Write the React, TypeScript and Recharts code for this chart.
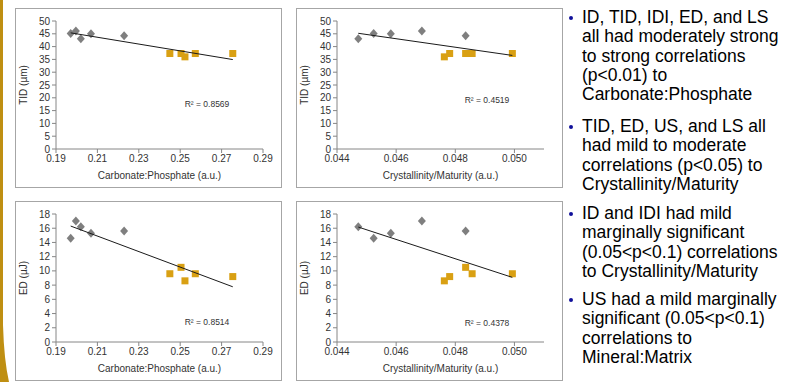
import React from "react";
import { ScatterChart, Scatter, XAxis, YAxis, Label } from "recharts";

// sample values (5 grey + 5 gold samples)
const carbPhosGray = [0.1971, 0.1996, 0.202, 0.2069, 0.2229];
const carbPhosGold = [0.245, 0.2504, 0.2523, 0.2573, 0.2754];
const crystGray = [0.04524, 0.04687, 0.04472, 0.04582, 0.04835];
const crystGold = [0.04857, 0.04835, 0.04763, 0.04993, 0.04781];
const tidGray = [45.1, 46.1, 43.1, 45.0, 44.2];
const tidGold = [37.3, 37.3, 36.0, 37.3, 37.3];
const edGray = [14.6, 17.0, 16.2, 15.3, 15.6];
const edGold = [9.6, 10.5, 8.6, 9.6, 9.2];

const cpTicks = [0.19, 0.21, 0.23, 0.25, 0.27, 0.29];
const crTicks = [0.044, 0.046, 0.048, 0.05];
const tidTicks = [0, 5, 10, 15, 20, 25, 30, 35, 40, 45, 50];
const edTicks = [0, 2, 4, 6, 8, 10, 12, 14, 16, 18];

const bullets = [
  ["ID, TID, IDI, ED, and LS", "all had moderately strong", "to strong correlations", "(p<0.01) to", "Carbonate:Phosphate"],
  ["TID, ED, US, and LS all", "had mild to moderate", "correlations (p<0.05) to", "Crystallinity/Maturity"],
  ["ID and IDI had mild", "marginally significant", "(0.05<p<0.1) correlations", "to Crystallinity/Maturity"],
  ["US had a mild marginally", "significant (0.05<p<0.1)", "correlations to", "Mineral:Matrix"],
];
const bulletTops = [8, 117, 204, 290];

type Pt = { x: number; y: number };

const zip = (xs: number[], ys: number[]): Pt[] => xs.map((x, i) => ({ x, y: ys[i] }));

// linear least-squares trendline over all points, drawn from min x to max x
function trend(pts: Pt[]): Pt[] {
  const n = pts.length;
  const mx = pts.reduce((s, p) => s + p.x, 0) / n;
  const my = pts.reduce((s, p) => s + p.y, 0) / n;
  let sxy = 0;
  let sxx = 0;
  pts.forEach((p) => {
    sxy += (p.x - mx) * (p.y - my);
    sxx += (p.x - mx) * (p.x - mx);
  });
  const b = sxy / sxx;
  const xs = pts.map((p) => p.x);
  const x0 = Math.min(...xs);
  const x1 = Math.max(...xs);
  return [
    { x: x0, y: my + b * (x0 - mx) },
    { x: x1, y: my + b * (x1 - mx) },
  ];
}

const GREY = "#7f7f7f";
const GOLD = "#d9a013";
const AXIS = "#868686";
const TXT = "#333";

const Diamond = (p: any) => (
  <polygon
    points={`${p.cx},${p.cy - 4.5} ${p.cx + 4},${p.cy} ${p.cx},${p.cy + 4.5} ${p.cx - 4},${p.cy}`}
    fill={GREY}
  />
);
const Square = (p: any) => (
  <rect x={p.cx - 3.5} y={p.cy - 3.5} width={7} height={7} fill={GOLD} />
);

type PanelProps = {
  left: number;
  top: number;
  gx: number[];
  gy: number[];
  ox: number[];
  oy: number[];
  xTicks: number[];
  xDomain: [number, number];
  digits: number;
  yTicks: number[];
  xTitle: string;
  yTitle: string;
  r2: string;
  r2x: number;
  r2y: number;
};

function Panel(p: PanelProps) {
  const grey = zip(p.gx, p.gy);
  const gold = zip(p.ox, p.oy);
  const line = trend([...grey, ...gold]);
  const yMax = p.yTicks[p.yTicks.length - 1];
  return (
    <>
      <div
        style={{
          position: "absolute",
          left: p.left,
          top: p.top,
          width: 267,
          height: 180,
          boxSizing: "border-box",
          border: "1px solid #a6a6a6",
        }}
      />
      <div style={{ position: "absolute", left: p.left, top: p.top }}>
        <ScatterChart width={267} height={180} margin={{ top: 13, right: 19, bottom: 0, left: 0 }}>
          <XAxis
            type="number"
            dataKey="x"
            domain={p.xDomain}
            ticks={p.xTicks}
            interval={0}
            allowDataOverflow
            height={39}
            tickSize={4}
            tick={{ fontSize: 10, fill: TXT }}
            tickFormatter={(v: number) => v.toFixed(p.digits)}
            axisLine={{ stroke: AXIS }}
            tickLine={{ stroke: AXIS }}
          >
            <Label
              content={(lp: any) => {
                const vb = lp.viewBox;
                return (
                  <text x={vb.x + vb.width / 2} y={vb.y + 26} textAnchor="middle" dominantBaseline="central" fontSize={10} fill={TXT}>
                    {p.xTitle}
                  </text>
                );
              }}
            />
          </XAxis>
          <YAxis
            type="number"
            dataKey="y"
            domain={[0, yMax]}
            ticks={p.yTicks}
            interval={0}
            width={41}
            tickSize={4}
            tick={{ fontSize: 10, fill: TXT }}
            axisLine={{ stroke: AXIS }}
            tickLine={{ stroke: AXIS }}
          >
            <Label
              content={(lp: any) => {
                const vb = lp.viewBox;
                const x = vb.x + 8;
                const y = vb.y + vb.height / 2;
                return (
                  <text x={x} y={y} transform={`rotate(-90 ${x} ${y})`} textAnchor="middle" dominantBaseline="central" fontSize={10} fill={TXT}>
                    {p.yTitle}
                  </text>
                );
              }}
            />
          </YAxis>
          <Scatter data={grey} shape={Diamond} isAnimationActive={false} />
          <Scatter data={gold} shape={Square} isAnimationActive={false} />
          <Scatter
            data={line}
            line={{ stroke: "#1a1a1a", strokeWidth: 1 }}
            shape={() => <g />}
            isAnimationActive={false}
          />
        </ScatterChart>
      </div>
      <span
        style={{
          position: "absolute",
          left: p.left + p.r2x,
          top: p.top + p.r2y,
          transform: "translate(-50%, -50%)",
          fontSize: 8.5,
          color: TXT,
          whiteSpace: "nowrap",
        }}
      >
        {p.r2}
      </span>
    </>
  );
}

export default function App() {
  return (
    <div
      style={{
        position: "absolute",
        left: 0,
        top: 0,
        width: 786,
        height: 382,
        overflow: "hidden",
        background: "#fff",
        fontFamily: "'Liberation Sans', Arial, sans-serif",
      }}
    >
      <svg width={20} height={382} style={{ position: "absolute", left: 0, top: 0 }}>
        <path d="M0,0 L3,0 L3,325 Q4,360 9,382 L0,382 Z" fill="#bf8f12" />
      </svg>
      <Panel
        left={15}
        top={8}
        gx={carbPhosGray}
        gy={tidGray}
        ox={carbPhosGold}
        oy={tidGold}
        xTicks={cpTicks}
        xDomain={[0.19, 0.29]}
        digits={2}
        yTicks={tidTicks}
        xTitle="Carbonate:Phosphate (a.u.)"
        yTitle="TID (µm)"
        r2="R² = 0.8569"
        r2x={192}
        r2y={96}
      />
      <Panel
        left={296}
        top={8}
        gx={crystGray}
        gy={tidGray}
        ox={crystGold}
        oy={tidGold}
        xTicks={crTicks}
        xDomain={[0.044, 0.051]}
        digits={3}
        yTicks={tidTicks}
        xTitle="Crystallinity/Maturity (a.u.)"
        yTitle="TID (µm)"
        r2="R² = 0.4519"
        r2x={191}
        r2y={92}
      />
      <Panel
        left={15}
        top={201}
        gx={carbPhosGray}
        gy={edGray}
        ox={carbPhosGold}
        oy={edGold}
        xTicks={cpTicks}
        xDomain={[0.19, 0.29]}
        digits={2}
        yTicks={edTicks}
        xTitle="Carbonate:Phosphate (a.u.)"
        yTitle="ED (µJ)"
        r2="R² = 0.8514"
        r2x={192}
        r2y={121}
      />
      <Panel
        left={296}
        top={201}
        gx={crystGray}
        gy={edGray}
        ox={crystGold}
        oy={edGold}
        xTicks={crTicks}
        xDomain={[0.044, 0.051]}
        digits={3}
        yTicks={edTicks}
        xTitle="Crystallinity/Maturity (a.u.)"
        yTitle="ED (µJ)"
        r2="R² = 0.4378"
        r2x={191}
        r2y={122}
      />
      {bullets.map((lines, i) => (
        <div key={i}>
          <div
            style={{
              position: "absolute",
              left: 569,
              top: bulletTops[i] + 8,
              width: 4,
              height: 4,
              borderRadius: 2,
              background: "#10109a",
            }}
          />
          <div
            style={{
              position: "absolute",
              left: 582,
              top: bulletTops[i],
              fontSize: 17.5,
              lineHeight: "19.3px",
              color: "#000",
              whiteSpace: "nowrap",
            }}
          >
            {lines.map((l, j) => (
              <div key={j}>{l}</div>
            ))}
          </div>
        </div>
      ))}
    </div>
  );
}
